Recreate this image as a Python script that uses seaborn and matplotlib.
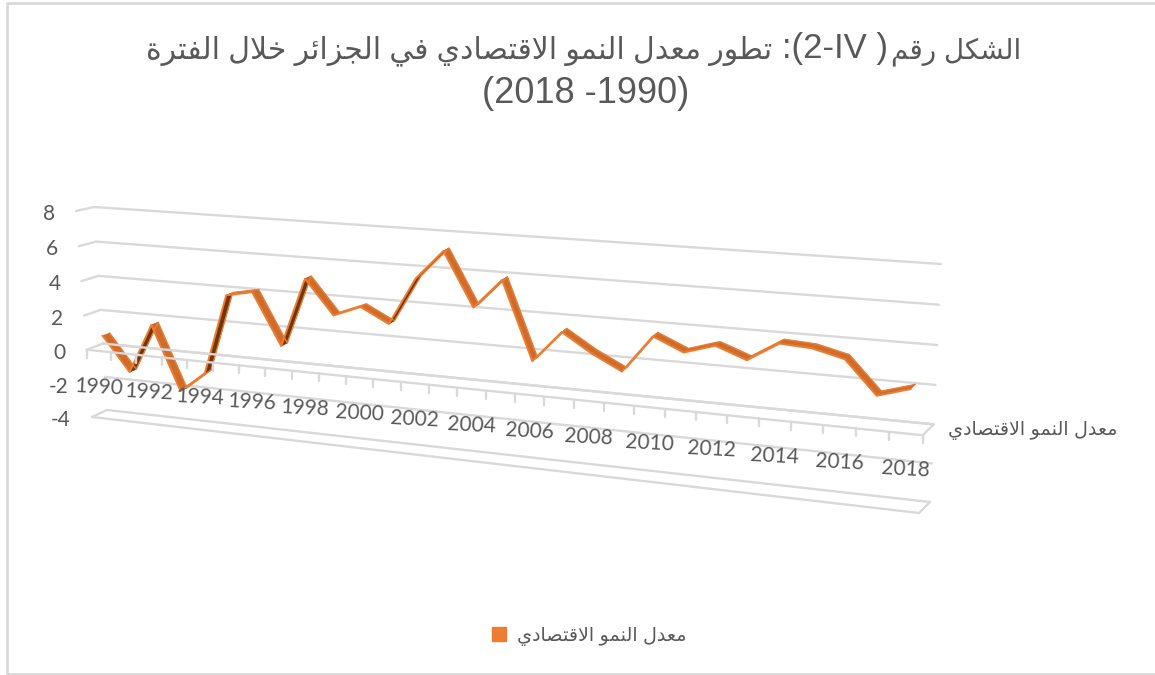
import numpy as np
import pandas as pd
import matplotlib
matplotlib.use('Agg')
import matplotlib.pyplot as plt
import matplotlib.transforms as mtransforms
from matplotlib.lines import Line2D
import seaborn as sns

# Valeurs
years = list(range(1990, 2019))
growth = [0.8, -1.2, 1.7, -2.0, -0.8, 3.8, 4.1, 1.2, 5.1, 3.2, 3.8, 3.0, 5.6, 7.2, 4.3,
          5.9, 1.7, 3.4, 2.4, 1.6, 3.6, 2.9, 3.4, 2.8, 3.8, 3.7, 3.3, 1.6, 2.1]
y_ticks = [8, 6, 4, 2, 0, -2, -4]
x_labels = list(range(1990, 2019, 2))
series_name = 'معدل النمو الاقتصادي'
title_words = 'تطور معدل النمو الاقتصادي في الجزائر خلال الفترة'
title_start = 'الشكل رقم'
title_code = ':(2-IV )'
title_period = '(2018 -1990)'

GRID = '#d9d9d9'
TEXT = '#595959'
ORANGE = '#ed7d31'
FACE = '#cf6c2b'
DARK = '#6e3510'

# Formes arabes : (debut du bloc, lettre a 4 formes ou non)
FORMS = {'ا': (0xFE8D, False), 'ل': (0xFEDD, True), 'ش': (0xFEB5, True), 'ك': (0xFED9, True),
         'ر': (0xFEAD, False), 'ق': (0xFED5, True), 'م': (0xFEE1, True), 'ت': (0xFE95, True),
         'ط': (0xFEC1, True), 'و': (0xFEED, False), 'ع': (0xFEC9, True), 'د': (0xFEA9, False),
         'ن': (0xFEE5, True), 'ص': (0xFEB9, True), 'ي': (0xFEF1, True), 'ف': (0xFED1, True),
         'ج': (0xFE9D, True), 'ز': (0xFEAF, False), 'ئ': (0xFE89, True), 'خ': (0xFEA5, True),
         'ة': (0xFE93, False)}


def arabe(texte):
    # matplotlib ne fait ni le shaping ni le bidi
    sortie = []
    i = 0
    lie = False
    while i < len(texte):
        c = texte[i]
        if c not in FORMS:
            sortie.append(c)
            lie = False
            i += 1
            continue
        if c == 'ل' and i + 1 < len(texte) and texte[i + 1] == 'ا':
            sortie.append(chr(0xFEFC if lie else 0xFEFB))
            lie = False
            i += 2
            continue
        debut, quatre = FORMS[c]
        suivant = i + 1 < len(texte) and texte[i + 1] in FORMS
        if quatre and suivant:
            sortie.append(chr(debut + (3 if lie else 2)))
            lie = True
        else:
            sortie.append(chr(debut + (1 if lie else 0)))
            lie = False
        i += 1
    return ''.join(sortie)[::-1]


class PlaneTransform(mtransforms.Transform):
    # Projection d'un plan (annee, valeur) vers les pixels de l'image
    input_dims = 2
    output_dims = 2
    is_separable = False

    def __init__(self, corners):
        super().__init__()
        src = [(1989.5, 8), (2018.5, 8), (1989.5, -4), (2018.5, -4)]
        A = []
        b = []
        for (u, v), (x, y) in zip(src, corners):
            A.append([u, v, 1, 0, 0, 0, -u * x, -v * x])
            A.append([0, 0, 0, u, v, 1, -u * y, -v * y])
            b += [x, y]
        self.H = np.append(np.linalg.solve(np.array(A, float), np.array(b, float)), 1).reshape(3, 3)

    def transform_non_affine(self, values):
        values = np.asarray(values, float)
        pts = np.column_stack([values, np.ones(len(values))]) @ self.H.T
        return pts[:, :2] / pts[:, 2:]


back_corners = np.array([(94, 207), (941, 264), (107, 410), (930, 502)], float)
front_corners = np.array([(76, 211), (930.5, 274), (92, 417), (919, 513)], float)


def plane(frac):
    return PlaneTransform(front_corners + frac * (back_corners - front_corners))


sns.set_theme(style='white')
plt.rcParams['font.family'] = ['Liberation Sans', 'DejaVu Sans']

fig = plt.figure(figsize=(11.55, 6.75), dpi=100)
ax = fig.add_axes([0, 0, 1, 1])
ax.set_xlim(0, 1155)
ax.set_ylim(675, 0)
ax.set_autoscale_on(False)
ax.axis('off')

front = plane(0) + ax.transData
back = plane(1) + ax.transData
rib_a = plane(0.28) + ax.transData
rib_b = plane(0.72) + ax.transData

# Cadre du graphique
ax.plot([1155, 7, 7, 1155], [3, 3, 674, 674], color=GRID, lw=2)

# Parois : grille du fond et petits retours a gauche
for v in y_ticks:
    ax.plot([1989.5, 2018.5], [v, v], color=GRID, lw=1.7, transform=back, zorder=1)
    if v != -2:
        a = front.transform([(1989.5, v)])[0]
        b = back.transform([(1989.5, v)])[0]
        ax.plot([a[0], b[0]], [a[1], b[1]], color=GRID, lw=1.7, transform=None, zorder=1)

# Sol a -4
ax.plot([1989.5, 2018.5], [-4, -4], color=GRID, lw=1.7, transform=front, zorder=1)
a = front.transform([(2018.5, -4)])[0]
b = back.transform([(2018.5, -4)])[0]
ax.plot([a[0], b[0]], [a[1], b[1]], color=GRID, lw=1.7, transform=None, zorder=1)

# Ruban de la serie
df = pd.DataFrame({'annee': years, 'croissance': growth})
pts = df[['annee', 'croissance']].to_numpy(float)
pa = rib_a.transform(pts)
pb = rib_b.transform(pts)
for i in range(len(pts) - 1):
    d = pa[i + 1] - pa[i]
    o = pb[i] - pa[i]
    # ecran : y vers le haut ici, une face sombre si on voit le dessous du ruban
    dessous = d[0] * o[1] - d[1] * o[0] < 0
    quad = np.array([pa[i], pa[i + 1], pb[i + 1], pb[i]])
    ax.fill(quad[:, 0], quad[:, 1], color=DARK if dessous else FACE, lw=0.3,
            transform=None, zorder=3)
sns.lineplot(data=df, x='annee', y='croissance', ax=ax, color=ORANGE, lw=1.4, sort=False,
             estimator=None, errorbar=None, legend=False, transform=rib_a, zorder=4)
sns.lineplot(data=df, x='annee', y='croissance', ax=ax, color=ORANGE, lw=1.0, sort=False,
             estimator=None, errorbar=None, legend=False, transform=rib_b, zorder=4)
ax.set_xlim(0, 1155)
ax.set_ylim(675, 0)
ax.axis('off')

# Plan du zero avec ses graduations, par-dessus la serie
ax.plot([1989.5, 2018.5], [0, 0], color=GRID, lw=1.7, transform=back, zorder=5)
ax.plot([1989.5, 2018.5], [0, 0], color=GRID, lw=1.7, transform=front, zorder=5)
a = front.transform([(2018.5, 0)])[0]
b = back.transform([(2018.5, 0)])[0]
ax.plot([a[0], b[0]], [a[1], b[1]], color=GRID, lw=1.7, transform=None, zorder=5)
for edge in np.arange(1989.5, 2019):
    p = front.transform([(edge, 0)])[0]
    ax.plot([p[0], p[0]], [p[1], p[1] - 8], color=GRID, lw=1.7, transform=None, zorder=5)

# Textes des axes
for v in y_ticks:
    ax.annotate(str(v), xy=(1989.5, v), xycoords=front, xytext=(-21, -3),
                textcoords='offset pixels', ha='right', va='center', fontsize=15,
                family='Lato', color=TEXT, zorder=6)
for yr in x_labels:
    ax.annotate(str(yr), xy=(yr, 0), xycoords=front, xytext=(0, -36),
                textcoords='offset pixels', ha='center', va='center', fontsize=15,
                family='Lato', color=TEXT, rotation=-3, rotation_mode='anchor', zorder=6)
ax.text(1117, 430, arabe(series_name), ha='right', va='center', fontsize=13.8, color=TEXT)

# Titre sur deux lignes
ax.text(772, 58, arabe(title_words), ha='right', va='baseline', fontsize=21.5, color=TEXT)
ax.text(835, 58, title_code, ha='center', va='baseline', fontsize=25, color=TEXT)
ax.text(1021, 58, arabe(title_start), ha='right', va='baseline', fontsize=20, color=TEXT)
ax.text(586, 103, title_period, ha='center', va='baseline', fontsize=26, color=TEXT)

# Legende
handle = Line2D([], [], color='none', marker='s', markersize=10, markerfacecolor=ORANGE,
                markeredgecolor=ORANGE, label=arabe(series_name))
leg = ax.legend(handles=[handle], loc='center', bbox_to_anchor=(587 / 1155, 1 - 636 / 675),
                frameon=False, fontsize=13.8, handletextpad=0.3, handlelength=1.2)
for t in leg.get_texts():
    t.set_color(TEXT)

plt.savefig('out.png', dpi=100)
